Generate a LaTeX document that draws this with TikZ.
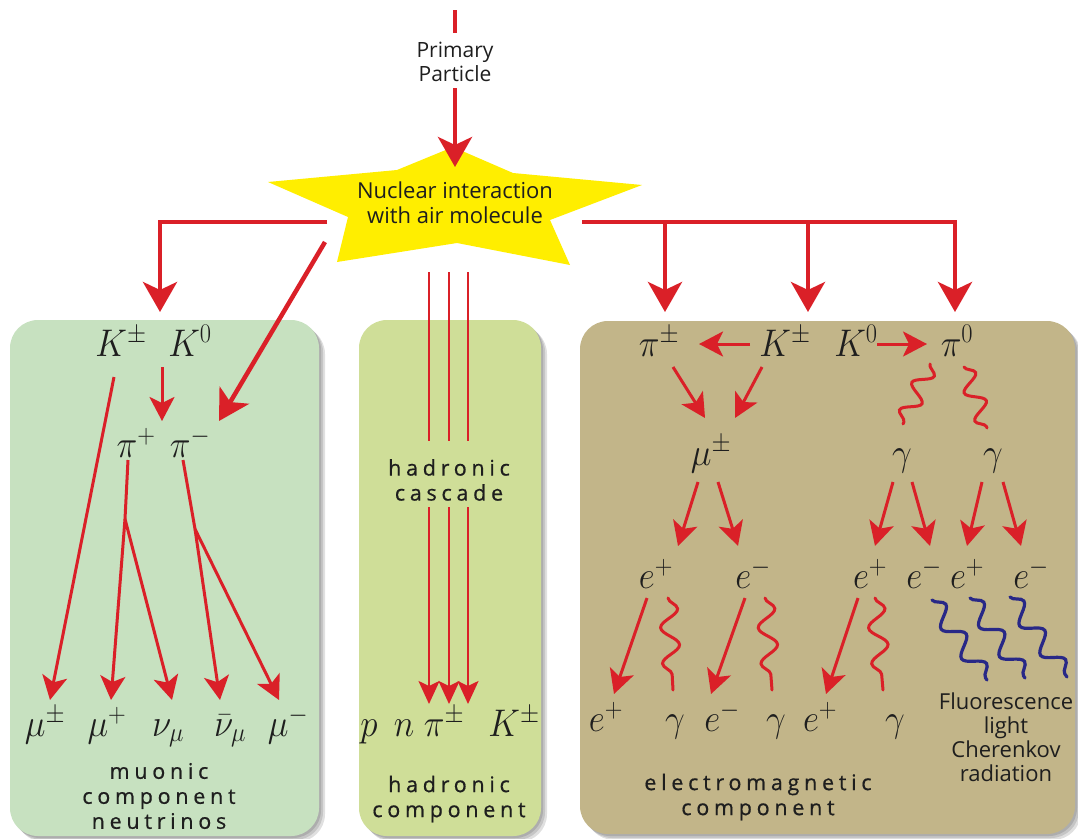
\RequirePackage{fix-cm}
\documentclass[tikz,border=0pt]{standalone}
\usepackage{fontspec}
\setsansfont{Open Sans}
\newfontfamily\spc[LetterSpace=22, FakeBold=0.6]{Open Sans}
\usetikzlibrary{arrows.meta,decorations.pathmorphing,calc}
\definecolor{ared}{RGB}{218,32,40}
\definecolor{ablue}{RGB}{40,40,135}
\definecolor{staryel}{RGB}{255,238,0}
\definecolor{pgreen}{RGB}{199,225,192}
\definecolor{pyellow}{RGB}{207,222,152}
\definecolor{ptan}{RGB}{194,181,137}
\definecolor{txt}{RGB}{30,30,30}
\newcommand{\M}[1]{\scalebox{1}[1.1]{$#1$}}
\begin{document}
\begin{tikzpicture}[x=1pt,y=-1pt,
  m/.style={font=\fontsize{35}{40}\selectfont, text=txt, inner sep=0pt, anchor=base},
  lbl/.style={font=\sffamily\fontsize{21}{24}\selectfont, text=txt, align=center, inner sep=0pt},
  spaced/.style={font=\spc\fontsize{21.5}{25}\selectfont, text=txt, align=center, inner sep=0pt},
  bigl/.style={draw=ared, line width=4.5pt},
  big/.style={bigl, -{Stealth[length=30pt,width=34pt,inset=8pt]}},
  ln/.style={draw=ared, line width=3pt},
  arr/.style={ln, -{Stealth[length=24pt,width=25pt,inset=6pt]}},
  thinln/.style={draw=ared, line width=2.3pt},
  thinarr/.style={thinln, -{Stealth[length=23pt,width=21pt,inset=5pt]}},
  wave/.style={draw=ared, line width=3pt, line cap=round, decorate, decoration={snake, segment length=30pt, amplitude=9pt}},
  lwave/.style={wave, decoration={snake, segment length=36pt, amplitude=9pt}},
  bwave/.style={draw=ablue, line width=3.2pt, line cap=round, decorate, decoration={snake, segment length=36pt, amplitude=9pt}},
  panel/.style={rounded corners=28pt},
  shade/.style={fill=black, opacity=0.12, rounded corners=28pt}
]
\useasboundingbox (0,0) rectangle (1078,838);
% panels with soft shadows
\foreach \d in {2,4,6}{
  \fill[shade] (10+\d,320+\d) rectangle (319+\d,836+\d);
  \fill[shade] (359+\d,320+\d) rectangle (541+\d,836+\d);
  \fill[shade] (580+\d,321+\d) rectangle (1075+\d,834+\d);
}
\fill[pgreen,panel] (10,320) rectangle (319,836);
\fill[pyellow,panel] (359,320) rectangle (541,836);
\fill[ptan,panel] (580,321) rectangle (1075,834);

% star
\fill[staryel] (453,147) -- (513,173) -- (642,185) -- (550,220) -- (570,265) -- (457,243)
  -- (337,262) -- (348,217) -- (268,182) -- (397,170) -- cycle;
\node[lbl, font=\sffamily\fontsize{22}{25}\selectfont] (nuc) at (455,203) {Nuclear interaction\\with air molecule};
\node[lbl] (prim) at (455,62) {Primary\\Particle};
\coordinate (ptop) at (455,10);
\draw[bigl] (ptop) -- ($(prim)+(0,-29)$);
\draw[big] ($(prim)+(0,26)$) -- ($(nuc)+(0,-36)$);

% left panel nodes
\node[m] (lKpm) at (121,356) {\M{K^\pm}};
\node[m] (lK0) at (190,356) {\M{K^0}};
\node[m] (lpip) at (136,457) {\M{\pi^+}};
\node[m] (lpim) at (190,457) {\M{\pi^-}};
\node[m] (lmu1) at (45,736) {\M{\mu^\pm}};
\node[m] (lmu2) at (107,736) {\M{\mu^+}};
\node[m] (lnu) at (168,736) {\M{\nu_\mu}};
\node[m] (lnub) at (230,736) {\M{\bar\nu_\mu}};
\node[m] (lmu3) at (288,736) {\M{\mu^-}};
\node[spaced] (lcap) at (159,796) {muonic\\component\\neutrinos};

% top connectors
\draw[big] ($(nuc)+(-128,19)$) -| ($(lKpm.base)+(39,-44)$);
\draw[big] ($(nuc)+(-130,39)$) -- ($(lpim.base)+(29,-36)$);

% left panel connectors
\draw[arr] ($(lKpm.base)+(-7,21)$) -- ($(lmu1.base)+(5,-36)$);
\draw[arr] ($(lK0.base)+(-28,11)$) -- ($(lpip.base)+(26,-36)$);
\coordinate (b1) at ($(lpip.base)+(-11,62)$);
\coordinate (b2) at ($(lpim.base)+(5,72)$);
\draw[ln] ($(lpip.base)+(-8,3)$) -- (b1);
\draw[arr] (b1) -- ($(lmu2.base)+(4,-36)$);
\draw[arr] (b1) -- ($(lnu.base)+(4,-36)$);
\draw[ln] ($(lpim.base)+(-7,3)$) -- (b2);
\draw[arr] (b2) -- ($(lnub.base)+(-10,-36)$);
\draw[arr] (b2) -- ($(lmu3.base)+(-9,-36)$);

% middle panel
\node[spaced] (casc) at (449,480) {hadronic\\cascade};
\node[m] (hp) at (369,736) {\M{p}};
\node[m] (hn) at (404,736) {\M{n}};
\node[m] (hpi) at (444,736) {\M{\pi^\pm}};
\node[m] (hK) at (514,736) {\M{K^\pm}};
\node[spaced] (hcap) at (449,799) {hadronic\\component};
\foreach \dx in {-20,0,19}{
  \draw[thinln] ($(casc)+(\dx,-208)$) -- ($(casc)+(\dx,-39)$);
  \draw[thinarr] ($(casc)+(\dx,27)$) -- ($(casc)+(\dx,224)$);
}

% right panel nodes
\node[m] (rpi) at (659,356) {\M{\pi^\pm}};
\node[m] (rK) at (785,356) {\M{K^\pm}};
\node[m] (rK0) at (856,356) {\M{K^0}};
\node[m] (rpi0) at (957,356) {\M{\pi^0}};
\node[m] (rmu) at (711,465) {\M{\mu^\pm}};
\node[m] (rg1) at (902,465) {\M{\gamma}};
\node[m] (rg2) at (993,465) {\M{\gamma}};
\node[m] (re1) at (656,588) {\M{e^+}};
\node[m] (re2) at (753,588) {\M{e^-}};
\node[m] (re3) at (870,588) {\M{e^+}};
\node[m] (re4) at (924,588) {\M{e^-}};
\node[m] (re5) at (967,588) {\M{e^+}};
\node[m] (re6) at (1031,588) {\M{e^-}};
\node[m] (rb1) at (606,731) {\M{e^+}};
\node[m] (rb2) at (675,731) {\M{\gamma}};
\node[m] (rb3) at (722,731) {\M{e^-}};
\node[m] (rb4) at (776,731) {\M{\gamma}};
\node[m] (rb5) at (820,731) {\M{e^+}};
\node[m] (rb6) at (895,731) {\M{\gamma}};
\node[lbl, font=\sffamily\fontsize{22}{24}\selectfont] (fl) at (1006,737) {Fluorescence\\light\\Cherenkov\\radiation};
\node[spaced] (ecap) at (758,797) {electromagnetic\\component};

% top right connectors
\draw[big] ($(nuc)+(127,19)$) -| ($(rpi0.base)+(-2,-44)$);
\draw[big] ($(rpi.base)+(6,-134)$) -- ($(rpi.base)+(6,-44)$);
\draw[big] ($(rK.base)+(23,-134)$) -- ($(rK.base)+(23,-44)$);

% right panel connectors
\draw[arr] ($(rK.base)+(-35,-12)$) -- ($(rpi.base)+(40,-12)$);
\draw[arr] ($(rK0.base)+(21,-12)$) -- ($(rpi0.base)+(-30,-12)$);
\draw[arr] ($(rpi.base)+(14,11)$) -- ($(rmu.base)+(-6,-47)$);
\draw[arr] ($(rK.base)+(-23,11)$) -- ($(rmu.base)+(24,-47)$);
\draw[wave] ($(rpi0.base)+(-27,8)$) -- ($(rg1.base)+(1,-41)$);
\draw[wave] ($(rpi0.base)+(7,11)$) -- ($(rg2.base)+(-6,-37)$);
\draw[arr] ($(rmu.base)+(-13,17)$) -- ($(re1.base)+(22,-42)$);
\draw[arr] ($(rmu.base)+(7,17)$) -- ($(re2.base)+(-15,-42)$);
\draw[arr] ($(rg1.base)+(-9,17)$) -- ($(re3.base)+(5,-42)$);
\draw[arr] ($(rg1.base)+(10,17)$) -- ($(re4.base)+(6,-42)$);
\draw[arr] ($(rg2.base)+(-11,17)$) -- ($(re5.base)+(0,-42)$);
\draw[arr] ($(rg2.base)+(10,17)$) -- ($(re6.base)+(-10,-42)$);
\draw[arr] ($(re1.base)+(-9,10)$) -- ($(rb1.base)+(8,-37)$);
\draw[arr] ($(re2.base)+(-8,10)$) -- ($(rb3.base)+(-11,-37)$);
\draw[arr] ($(re3.base)+(-12,10)$) -- ($(rb5.base)+(6,-37)$);
\draw[lwave] ($(re1.base)+(12,10)$) -- ($(rb2.base)+(-2,-41)$);
\draw[lwave] ($(re2.base)+(12,10)$) -- ($(rb4.base)+(-4,-41)$);
\draw[lwave] ($(re3.base)+(5,10)$) -- ($(rb6.base)+(-12,-41)$);
\draw[bwave] ($(re4.base)+(8,12)$) -- ($(re4.base)+(63,92)$);
\draw[bwave] ($(re5.base)+(3,10)$) -- ($(re5.base)+(58,90)$);
\draw[bwave] ($(re6.base)+(-21,9)$) -- ($(re6.base)+(36,89)$);
\end{tikzpicture}
\end{document}
